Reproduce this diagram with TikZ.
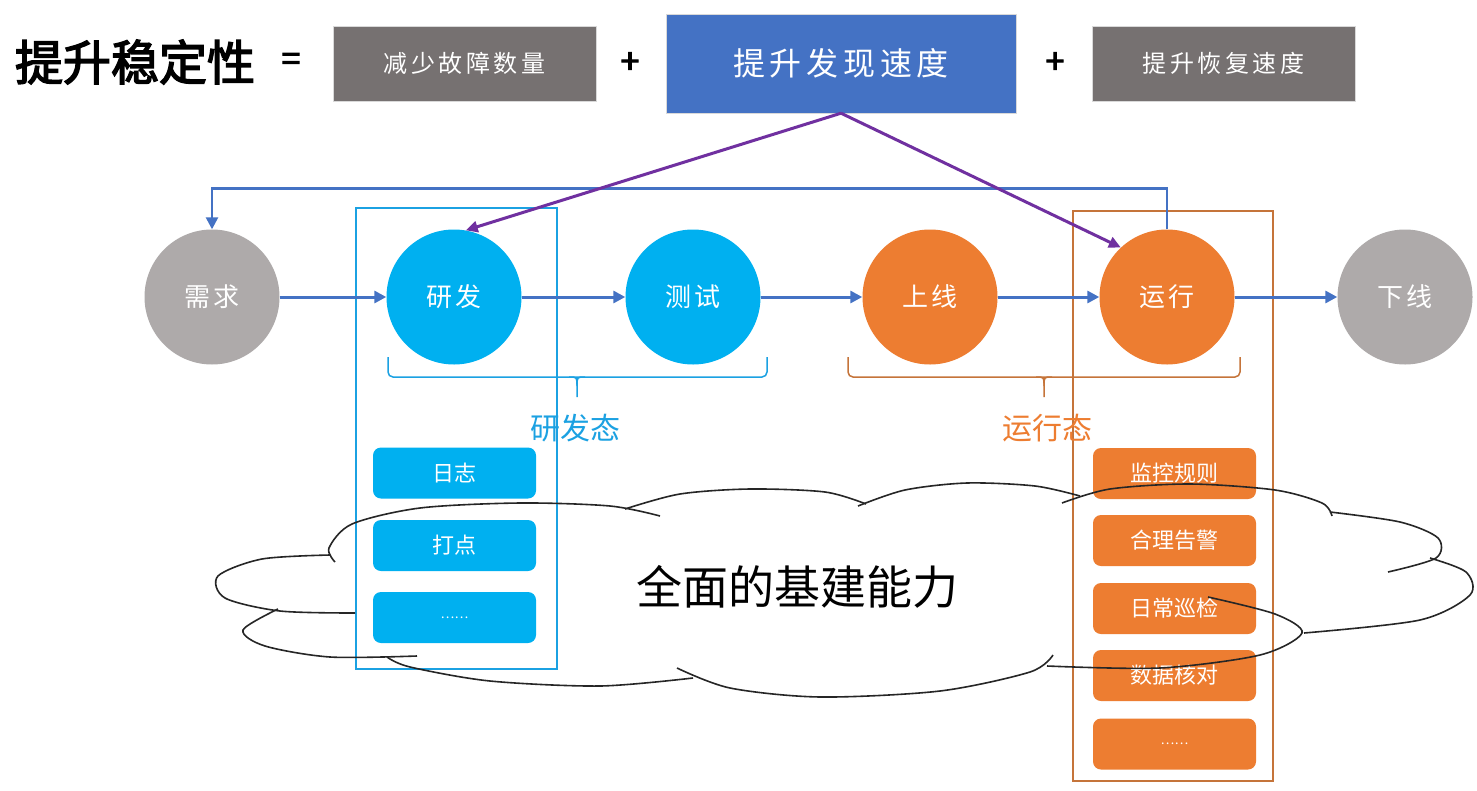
\documentclass[tikz,border=0pt]{standalone}
\usepackage{fontspec}
\setmainfont{Noto Sans CJK SC}
\newfontfamily\heavy{Noto Sans CJK SC}[FakeBold=3]
\newfontfamily\kai{Noto Sans CJK SC}[LetterSpace=15]
\usetikzlibrary{arrows.meta}
\definecolor{goalgray}{HTML}{767171}
\definecolor{goalblue}{HTML}{4472C4}
\definecolor{devblue}{HTML}{00B0F0}
\definecolor{runorange}{HTML}{ED7D31}
\definecolor{stagegray}{HTML}{AEAAAA}
\definecolor{flowblue}{HTML}{4472C4}
\definecolor{hintpurple}{HTML}{7030A0}
\definecolor{devframe}{HTML}{1BA1E2}
\definecolor{runframe}{HTML}{C5743A}

\begin{document}
\begin{tikzpicture}[x=1pt,y=-1pt]
    \tikzstyle{goal}=[rectangle,fill=goalgray,draw=black!15,text=white,minimum width=263pt,minimum height=75pt,inner sep=0pt,font=\kai\fontsize{24}{28}\selectfont]
    \tikzstyle{stage}=[circle,minimum size=135pt,inner sep=0pt,text=white,font=\kai\fontsize{26}{30}\selectfont]
    \tikzstyle{item}=[rectangle,rounded corners=8pt,minimum width=163pt,minimum height=51pt,inner sep=0pt,text=white,font=\fontsize{22}{26}\selectfont]
    \tikzstyle{sign}=[font=\heavy\fontsize{34}{40}\selectfont]
    \tikzstyle{flow}=[-{Triangle[length=12pt,width=12pt]},draw=flowblue,line width=3pt]
    \tikzstyle{hint}=[-{Triangle[length=12pt,width=11pt]},draw=hintpurple,line width=3pt]
    \tikzstyle{cloudline}=[draw=black!85,line width=1.6pt]

    \fill[white] (0,0) rectangle (1477,790);
    \useasboundingbox (0,0) rectangle (1477,790);

    % top row
    \node[font=\heavy\fontsize{48}{54}\selectfont] (title) at (135,62) {提升稳定性};
    \node[sign] (eq) at (291,62) {=};
    \node[goal] (T-1) at (464.5,63.5) {减少故障数量};
    \node[sign] (plus-1) at (630,63) {+};
    \node[goal,fill=goalblue,minimum width=350pt,minimum height=99pt,
        font=\kai\fontsize{32}{36}\selectfont] (T-2) at (841,63.5) {提升发现速度};
    \node[sign] (plus-2) at (1055,63) {+};
    \node[goal] (T-3) at (1223.5,63.5) {提升恢复速度};

    % frames
    \draw[devframe,line width=1.5pt] (356,208) rectangle (557,669);
    \draw[runframe,line width=1.5pt] (1073,211) rectangle (1273,781);

    % stages
    \foreach \n/\x/\c/\t in {1/212/stagegray/需求,2/454/devblue/研发,3/693/devblue/测试,
        4/930/runorange/上线,5/1167/runorange/运行,6/1405/stagegray/下线}
    \node[stage,fill=\c] (S-\n) at (\x,297) {\t};

    \foreach \a/\b in {1/2,2/3,3/4,4/5,5/6}
    \draw[flow] (S-\a) -- (S-\b);
    \draw[flow,line width=2.5pt] (S-5.north) -- ++(0,-41) -| (S-1.north);

    \draw[hint] (T-2.south) -- (S-2.80);
    \draw[hint] (T-2.south) -- (S-5.133);

    % braces
    \draw[devframe,line width=1.5pt,rounded corners=5pt] (388,357) -- (388,377) -- (767,377) -- (767,357);
    \draw[devframe,line width=1.5pt] (569,377) .. controls (577,377) .. (577,386) -- (577,397);
    \draw[devframe,line width=1.5pt] (585,377) .. controls (577,377) .. (577,386);
    \draw[runframe,line width=1.5pt,rounded corners=5pt] (848,357) -- (848,377) -- (1240,377) -- (1240,357);
    \draw[runframe,line width=1.5pt] (1036,377) .. controls (1044,377) .. (1044,386) -- (1044,397);
    \draw[runframe,line width=1.5pt] (1052,377) .. controls (1044,377) .. (1044,386);

    \node[text=devframe,font=\fontsize{30}{34}\selectfont] (dev) at (575,428) {研发态};
    \node[text=runorange,font=\fontsize{30}{34}\selectfont] (run) at (1047,428) {运行态};

    % items
    \foreach \i/\y/\t in {1/473/日志,2/545.5/打点,3/617.5/{\fontsize{13}{14}\selectfont ……}}
    \node[item,fill=devblue] (D-\i) at (454.5,\y) {\t};
    \foreach \i/\y/\t in {1/473.5/监控规则,2/540.5/合理告警,3/608.5/日常巡检,4/675.5/数据核对,
        5/744/{\fontsize{13}{14}\selectfont ……}}
    \node[item,fill=runorange] (R-\i) at (1174.5,\y) {\t};

    % cloud
    \draw[cloudline] plot[smooth] coordinates {(335,562) (329,548) (352,524) (420,508) (520,503) (610,506) (660,516)};
    \draw[cloudline] plot[smooth] coordinates {(625,509) (680,494) (750,489) (825,492) (866,504)};
    \draw[cloudline] plot[smooth] coordinates {(858,506) (905,490) (967,483) (1035,486) (1080,496)};
    \draw[cloudline] plot[smooth] coordinates {(1062,503) (1110,489) (1190,484) (1275,490) (1322,503) (1332,516)};
    \draw[cloudline] plot[smooth] coordinates {(1330,512) (1400,522) (1438,538) (1436,558) (1388,572)};
    \draw[cloudline] plot[smooth] coordinates {(1430,558) (1466,572) (1470,595) (1420,620) (1304,633)};
    \draw[cloudline] plot[smooth] coordinates {(1208,597) (1275,614) (1302,633) (1260,655) (1160,668) (1047,666)};
    \draw[cloudline] plot[smooth] coordinates {(1053,655) (1030,672) (940,691) (820,697) (730,688) (677,668)};
    \draw[cloudline] plot[smooth] coordinates {(693,678) (600,686) (490,681) (410,667) (387,657)};
    \draw[cloudline] plot[smooth] coordinates {(417,656) (330,657) (265,646) (243,630) (278,609)};
    \draw[cloudline] plot[smooth] coordinates {(355,613) (280,611) (225,598) (218,576) (262,559) (330,555)};
    \node[font=\fontsize{46}{52}\selectfont] (base) at (797,587) {全面的基建能力};
\end{tikzpicture}
\end{document}
